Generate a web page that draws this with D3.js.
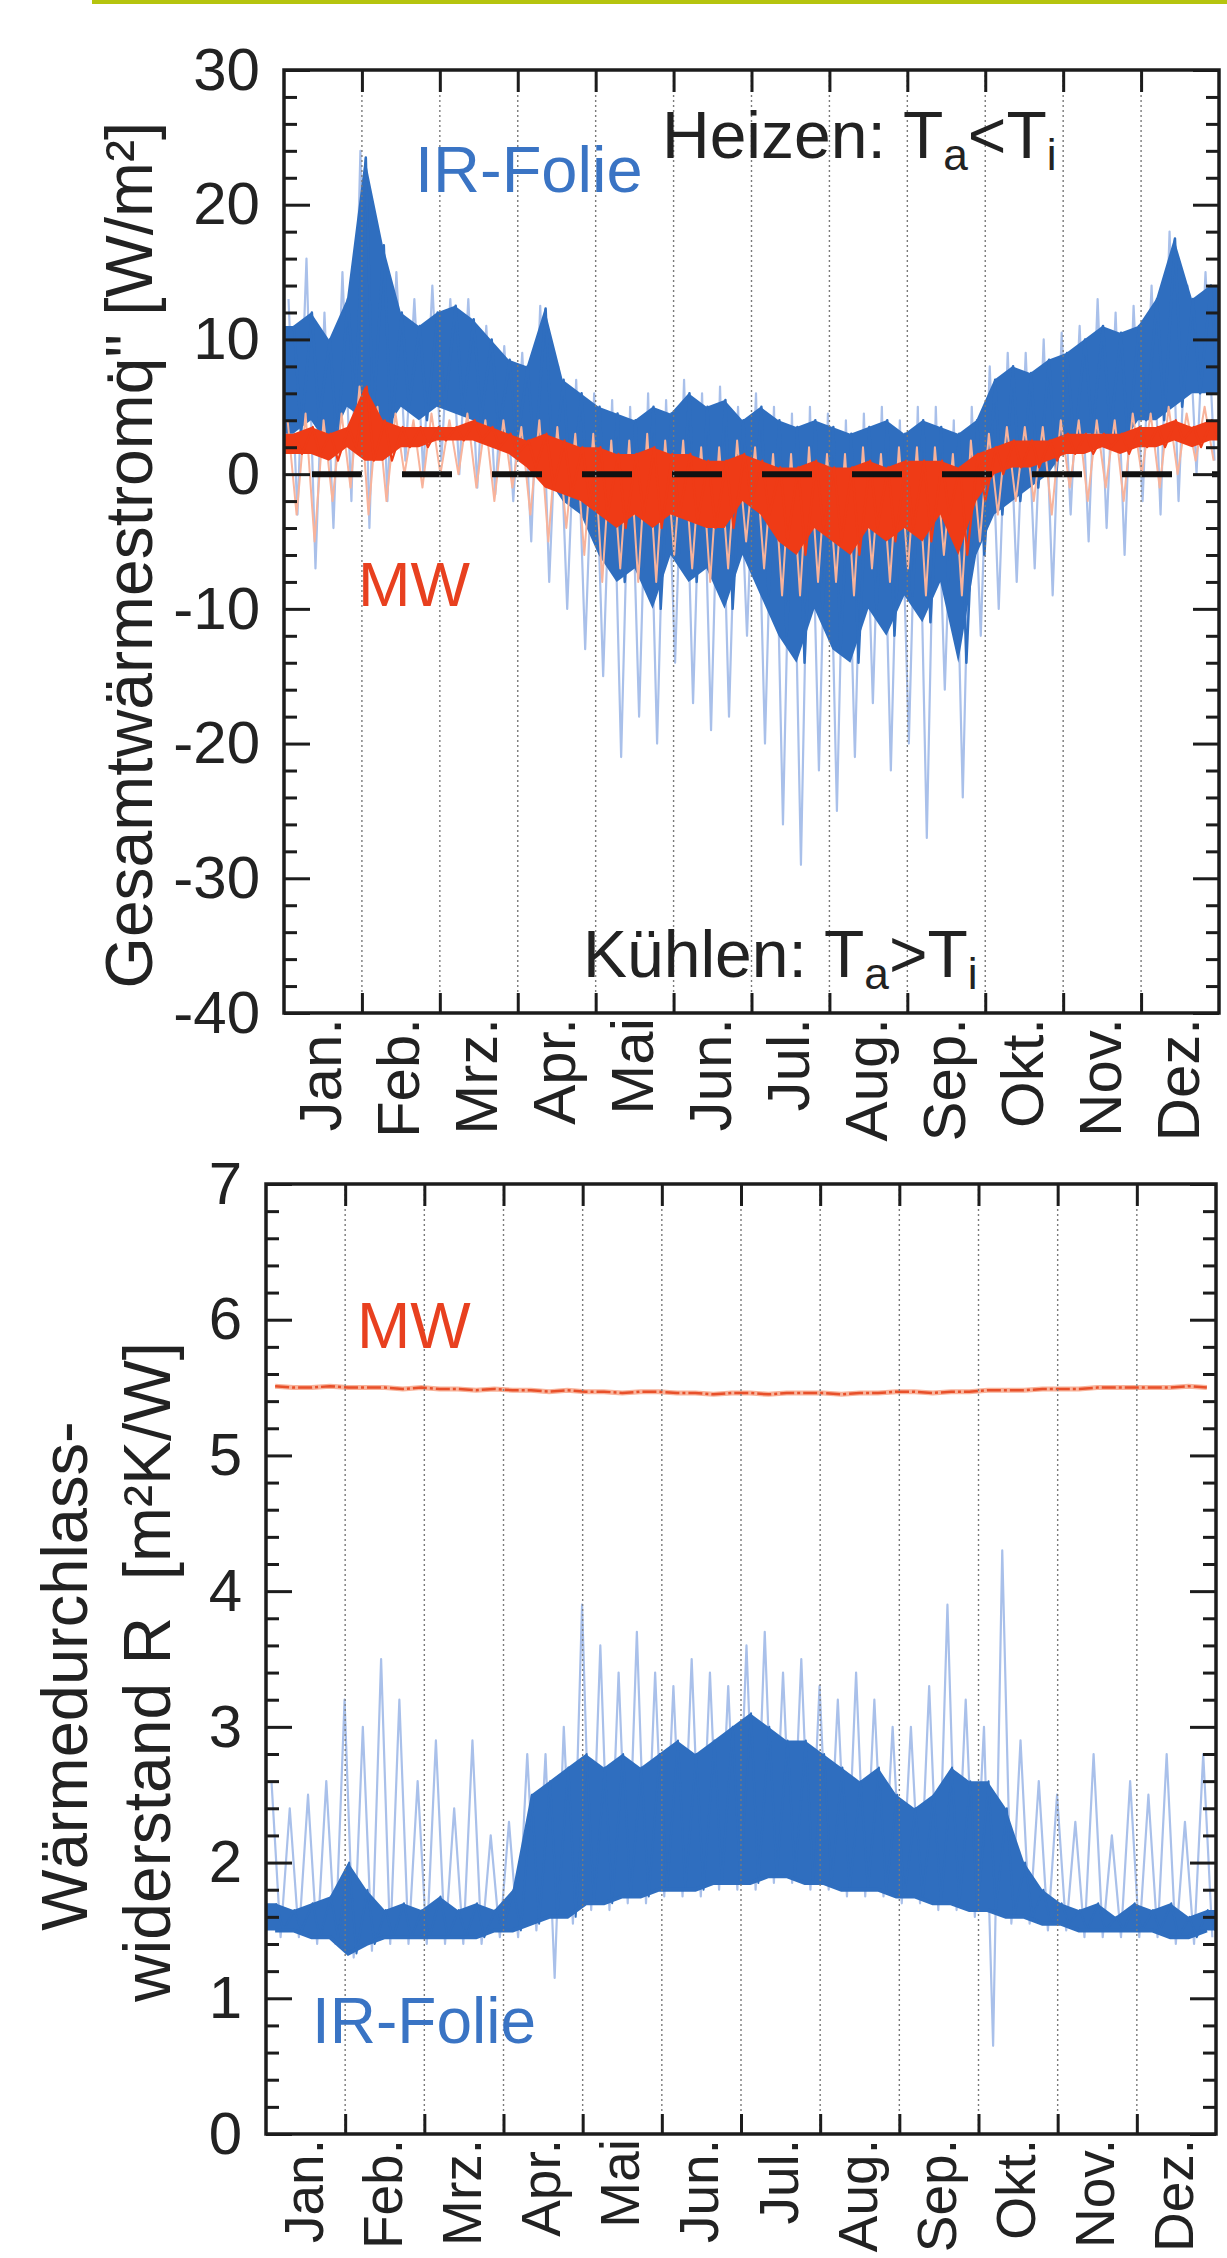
<!DOCTYPE html>
<html>
<head>
<meta charset="utf-8">
<script src="https://cdn.jsdelivr.net/npm/d3@7"></script>
<style>
  body { margin: 0; background: #fff; }
  svg { display: block; font-family: "Liberation Sans", Arial, sans-serif; }
</style>
</head>
<body>
<div id="chart"></div>
<script>
// month labels and tick values
const months = ["Jan.","Feb.","Mrz.","Apr.","Mai","Jun.","Jul.","Aug.","Sep.","Okt.","Nov.","Dez."];
const qTicks = [30,20,10,0,-10,-20,-30,-40];
const rTicks = [0,1,2,3,4,5,6,7];

// upper chart, weekly envelopes (52 weeks) of the heat flux q'' [W/m²]
const irHi   = [11,12,10,13, 23.5,17,12,11,12, 12.5,11.5,10,8.5, 8,12.3,7,6, 5,4.5,4,5,4.5, 6,5,5.5,4, 5,4,3.5,4, 3.5,3,3.5,4,3, 4,3.5,3,4, 7,8,7.5,8.5, 9,10,11,10.5,11, 13,17.5,13,14];
const irLo   = [3,4,2,5, 4,3,5,4,5, 4.5,4,3,2, 1,0,-2,-3, -6,-8,-7,-10,-6, -8,-7,-10,-6, -9,-12,-14,-10, -13,-14,-10,-12,-9, -11,-8,-14,-6, -3,-2,-1,0, 2,3,3,2,4, 4,5,6,6];
const irPeak = [13,16,12,15, 24,18,15,13,14, 13,13,11,9.5, 9,12.5,8,7, 6,5.5,5,6,5.5, 7,6,6.5,5, 6,5,4.5,5, 4.5,4,4.5,5,4, 5,5,4,5, 8,9,9,10, 10.5,11,13,12,12.5, 14,18,14,15];
const irDip  = [-3,-7,-4,-2, -4,-2,1,0,1, 0,-1,-1.5,-2, -5,-8,-10,-13, -15,-21,-18,-20,-14, -17,-19,-18,-12, -20,-26,-29,-22, -25,-21,-17,-22,-20, -27,-16,-24,-12, -10,-8,-7,-9, -3,-5,-4,-6,-2, -3,-2,0,1];

const mwHi   = [3,3.5,3,3.5, 6.5,4,3.5,3.5,3.5, 3.5,4,3.5,3, 2.5,3,2.5,2, 2,1.5,1.5,2,1.5, 1.5,1,1,1.5, 1,0.5,0.5,1, 0.5,0.5,1,0.5,1, 1,1,0.5,1.5, 2,2.5,2.5,2.5, 3,3,3,3,3.5, 3.5,4,3.5,4];
const mwLo   = [1.5,1.5,1,2, 1,1,2,2,2.5, 2.5,2.5,2,1.5, 0.5,-1,-1.5,-2, -3,-4,-3,-4,-3, -3.5,-4,-4,-2, -3,-5,-6,-4, -5,-6,-4,-5,-4, -5,-3,-6,-2, 0,0.5,0.5,1, 1.5,1.5,2,1.5,2, 2,2.5,2,2.5];
const mwPeak = [4,4.5,4,4.5, 6.5,5,4.5,4,4.5, 4,4.5,4,4, 3.5,4,3.5,3, 3,2.5,2.5,3,2.5, 2.5,2,2,2.5, 2,1.5,1.5,2, 1.5,1.5,2,1.5,2, 2,2,1.5,2.5, 3,3.5,3.5,3.5, 4,4,4,4,4.5, 4.5,5,4.5,5];
const mwDip  = [-3,-5,-2,-1, -3,-2,0,-1,0, 0,-1,-2,-1, -3,-5,-4,-6, -8,-7,-8,-8,-6, -7,-8,-7,-5, -7,-9,-9,-8, -8,-9,-7,-8,-7, -9,-6,-9,-5, -3,-2,-2,-3, -1,-2,-1,-2,0, -1,0,1,1];

// lower chart, weekly envelopes of the thermal resistance R [m²K/W]
const rBase = [1.5,1.5,1.45,1.45, 1.33,1.4,1.45,1.45,1.45, 1.45,1.45,1.45,1.5, 1.5,1.55,1.6,1.6, 1.7,1.7,1.75,1.75,1.8, 1.8,1.8,1.85,1.85, 1.85,1.9,1.9,1.85, 1.85,1.8,1.8,1.8,1.75, 1.75,1.7,1.7,1.65, 1.65,1.6,1.6,1.55, 1.55,1.5,1.5,1.5,1.5, 1.5,1.45,1.45,1.5];
const rHi   = [1.7,1.65,1.7,1.75, 2.0,1.8,1.65,1.7,1.65, 1.75,1.65,1.7,1.65, 1.8,2.5,2.6,2.7, 2.8,2.7,2.8,2.7,2.8, 2.9,2.8,2.9,3.0, 3.1,3.0,2.9,2.9, 2.8,2.7,2.6,2.7,2.5, 2.4,2.5,2.7,2.6, 2.6,2.4,2.0,1.8, 1.7,1.65,1.7,1.6,1.7, 1.65,1.7,1.6,1.65];
const rPeak = [2.6,2.4,2.5,2.6, 3.2,3.0,3.5,3.2,2.6, 2.9,2.4,2.9,2.2, 2.3,2.8,2.8,3.0, 3.9,3.6,3.4,3.7,3.4, 3.3,3.5,3.4,3.3, 3.6,3.7,3.4,3.5, 3.3,3.2,3.4,3.2,3.0, 3.0,3.3,3.9,3.2, 3.0,4.3,2.9,2.6, 2.5,2.3,2.8,2.2,2.6, 2.5,2.8,2.3,2.8];
const rDip  = [1.45,1.45,1.4,1.4, 1.3,1.35,1.4,1.4,1.4, 1.4,1.4,1.4,1.45, 1.45,1.5,1.15,1.55, 1.65,1.65,1.7,1.7,1.75, 1.75,1.75,1.8,1.8, 1.8,1.85,1.85,1.8, 1.8,1.75,1.75,1.75,1.7, 1.7,1.65,1.65,1.6, 0.65,1.55,1.55,1.5, 1.5,1.45,1.45,1.45,1.45, 1.45,1.4,1.4,1.45];
const rMw   = [5.51,5.5,5.5,5.51, 5.5,5.5,5.5,5.49,5.5, 5.49,5.49,5.48,5.49, 5.48,5.48,5.47,5.48, 5.47,5.47,5.46,5.47,5.47, 5.46,5.46,5.45,5.46, 5.46,5.45,5.46,5.46, 5.46,5.45,5.46,5.46,5.47, 5.47,5.46,5.47,5.47, 5.48,5.48,5.48,5.49, 5.49,5.49,5.5,5.5,5.5, 5.5,5.5,5.51,5.5];

const blueDark = "#2f6ebf", blueLight = "#a9c0ea";
const redDark = "#ef3b16", redLight = "#f8b39b";
const ink = "#1c1c1c";

const W = 1227, H = 2258;
const svg = d3.select("#chart").append("svg").attr("width", W).attr("height", H);

// green rule at the top of the page
svg.append("rect").attr("x", 92).attr("y", 0).attr("width", W - 92).attr("height", 4).attr("fill", "#b5c40e");

function makePanel(cfg) {
  let x = d3.scaleLinear().domain([0, 12]).range([cfg.left, cfg.right]);
  let y = d3.scaleLinear().domain(cfg.yDomain).range([cfg.bottom, cfg.top]);
  let wk = d3.scaleLinear().domain([-0.5, 51.5]).range([0, 12]);
  let g = svg.append("g");
  g.append("clipPath").attr("id", cfg.id).append("rect")
    .attr("x", cfg.left).attr("y", cfg.top)
    .attr("width", cfg.right - cfg.left).attr("height", cfg.bottom - cfg.top);
  let data = g.append("g").attr("clip-path", "url(#" + cfg.id + ")");
  return {cfg, x, y, wk, g, data};
}

function drawBand(P, hi, lo, color) {
  let pts = hi.map((v, i) => [i, v, lo[i]]);
  pts = [[-0.5, hi[0], lo[0]]].concat(pts, [[51.5, hi[51], lo[51]]]);
  P.data.append("path").datum(pts)
    .attr("d", d3.area()
      .x(d => P.x(P.wk(d[0])))
      .y0(d => P.y(d[2]))
      .y1(d => P.y(d[1])))
    .attr("fill", color);
}

function drawZig(P, a, b, fa, fb, color, w) {
  let pts = [];
  a.forEach((v, i) => { pts.push([i + fa, v]); pts.push([i + fb, b[i]]); });
  P.data.append("path").datum(pts)
    .attr("d", d3.line().x(d => P.x(P.wk(d[0]))).y(d => P.y(d[1])))
    .attr("fill", "none")
    .attr("stroke", color)
    .attr("stroke-width", w)
    .attr("stroke-linejoin", "round");
}

function styleAxis(sel) {
  sel.select(".domain").remove();
  sel.attr("font-size", 60).attr("font-family", "Liberation Sans, Arial, sans-serif");
  sel.selectAll("line").attr("stroke", ink).attr("stroke-width", 3);
  sel.selectAll("text").attr("fill", "#222");
}

function drawAxes(P, major, minor, labelSize) {
  let c = P.cfg, g = P.g;

  // dotted month grid
  g.append("g").selectAll("line").data(d3.range(1, 12)).join("line")
    .attr("x1", d => P.x(d)).attr("x2", d => P.x(d))
    .attr("y1", c.top).attr("y2", c.bottom)
    .attr("stroke", "#7a7a7a").attr("stroke-width", 1.4).attr("stroke-dasharray", "2,3");

  g.append("g").attr("transform", "translate(" + c.left + ",0)")
    .call(d3.axisLeft(P.y).tickValues(major).tickSize(-26).tickPadding(24).tickFormat(d => String(d)))
    .call(styleAxis);
  g.append("g").attr("transform", "translate(" + c.left + ",0)")
    .call(d3.axisLeft(P.y).tickValues(minor).tickSize(-13).tickFormat(""))
    .call(styleAxis);
  g.append("g").attr("transform", "translate(" + c.right + ",0)")
    .call(d3.axisRight(P.y).tickValues(major).tickSize(-26).tickFormat(""))
    .call(styleAxis);
  g.append("g").attr("transform", "translate(" + c.right + ",0)")
    .call(d3.axisRight(P.y).tickValues(minor).tickSize(-13).tickFormat(""))
    .call(styleAxis);

  g.append("g").attr("transform", "translate(0," + c.top + ")")
    .call(d3.axisTop(P.x).tickValues(d3.range(1, 12)).tickSize(-22).tickFormat(""))
    .call(styleAxis);
  g.append("g").attr("transform", "translate(0," + c.bottom + ")")
    .call(d3.axisBottom(P.x).tickValues(d3.range(1, 12)).tickSize(-20).tickFormat(""))
    .call(styleAxis);

  // month names, rotated
  let lab = g.append("g").attr("transform", "translate(0," + c.bottom + ")")
    .call(d3.axisBottom(P.x).tickValues(d3.range(12).map(i => i + 0.5)).tickSize(0).tickFormat((d, i) => months[i]))
    .call(styleAxis);
  lab.attr("font-size", labelSize);
  lab.selectAll("text")
    .attr("transform", "rotate(-90)")
    .attr("text-anchor", "end")
    .attr("x", -5).attr("y", 0).attr("dy", "0.3em");

  g.append("rect")
    .attr("x", c.left).attr("y", c.top)
    .attr("width", c.right - c.left).attr("height", c.bottom - c.top)
    .attr("fill", "none").attr("stroke", ink).attr("stroke-width", 3.5);
}

function label(x, y, size, color, parts) {
  let t = svg.append("text").attr("x", x).attr("y", y).attr("font-size", size).attr("fill", color);
  parts.forEach(p => {
    let s = t.append("tspan").text(p.t);
    if (p.sub) s.attr("dy", p.sub);
    if (p.small) s.attr("font-size", size * 0.67);
  });
  return t;
}

// ---------- upper chart ----------
let topP = makePanel({id: "clipTop", left: 284, right: 1219, top: 70, bottom: 1013, yDomain: [-40, 30]});

drawZig(topP, irPeak, irDip, -0.25, 0.25, blueLight, 2.2);
drawBand(topP, irHi, irLo, blueDark);
drawZig(topP, irHi, irLo, 0.05, 0.45, blueDark, 2.5);
drawZig(topP, mwPeak, mwDip, -0.3, 0.2, redLight, 2);
drawBand(topP, mwHi, mwLo, redDark);
drawZig(topP, mwHi, mwLo, 0.1, 0.5, redDark, 2.2);

topP.data.append("line")
  .attr("x1", topP.x(0)).attr("x2", topP.x(12))
  .attr("y1", topP.y(0)).attr("y2", topP.y(0))
  .attr("stroke", "#111").attr("stroke-width", 6)
  .attr("stroke-dasharray", "50,40").attr("stroke-dashoffset", 62);

drawAxes(topP, qTicks, d3.range(-40, 30.01, 2).filter(v => v % 10 !== 0), 60);

svg.append("text")
  .attr("transform", "translate(152,555) rotate(-90)")
  .attr("text-anchor", "middle").attr("font-size", 66).attr("fill", "#222")
  .text("Gesamtwärmestromq\u0307\" [W/m²]");

label(415, 192, 65, "#3a74c4", [{t: "IR-Folie"}]);
label(662, 158, 66, "#222", [{t: "Heizen: T"}, {t: "a", sub: 12, small: true}, {t: "<", sub: -12}, {t: "T"}, {t: "i", sub: 12, small: true}]);
label(358, 606, 63, "#e8401f", [{t: "MW"}]);
label(583, 977, 66, "#222", [{t: "Kühlen: T"}, {t: "a", sub: 12, small: true}, {t: ">", sub: -12}, {t: "T"}, {t: "i", sub: 12, small: true}]);

// ---------- lower chart ----------
let botP = makePanel({id: "clipBot", left: 266, right: 1216, top: 1184, bottom: 2134, yDomain: [0, 7]});

drawZig(botP, rPeak, rDip, -0.2, 0.3, blueLight, 2.2);
drawBand(botP, rHi, rBase, blueDark);
drawZig(botP, rHi, rBase, 0.05, 0.45, blueDark, 2);
botP.data.append("path").datum(rBase)
  .attr("d", d3.line().x((d, i) => botP.x(botP.wk(i))).y(d => botP.y(d)))
  .attr("fill", "none").attr("stroke", blueDark).attr("stroke-width", 4);

botP.data.append("path").datum(rMw)
  .attr("d", d3.line().x((d, i) => botP.x(botP.wk(i))).y(d => botP.y(d)))
  .attr("fill", "none").attr("stroke", redLight).attr("stroke-width", 5);
botP.data.append("path").datum(rMw)
  .attr("d", d3.line().x((d, i) => botP.x(botP.wk(i))).y(d => botP.y(d)))
  .attr("fill", "none").attr("stroke", "#e8502a").attr("stroke-width", 2.5)
  .attr("stroke-dasharray", "14,3,3,3");

drawAxes(botP, rTicks, d3.range(0, 7.001, 0.2).filter(v => Math.abs(v - Math.round(v)) > 1e-6), 55);

svg.append("text")
  .attr("transform", "translate(87,1676) rotate(-90)")
  .attr("text-anchor", "middle").attr("font-size", 65).attr("fill", "#222")
  .text("Wärmedurchlass-");
svg.append("text")
  .attr("transform", "translate(170,1672) rotate(-90)")
  .attr("text-anchor", "middle").attr("font-size", 66).attr("fill", "#222")
  .style("white-space", "pre")
  .text("widerstand R  [m²K/W]");

label(357, 1348, 64, "#e8401f", [{t: "MW"}]);
label(312, 2043, 64, "#3a74c4", [{t: "IR-Folie"}]);
</script>
</body>
</html>
